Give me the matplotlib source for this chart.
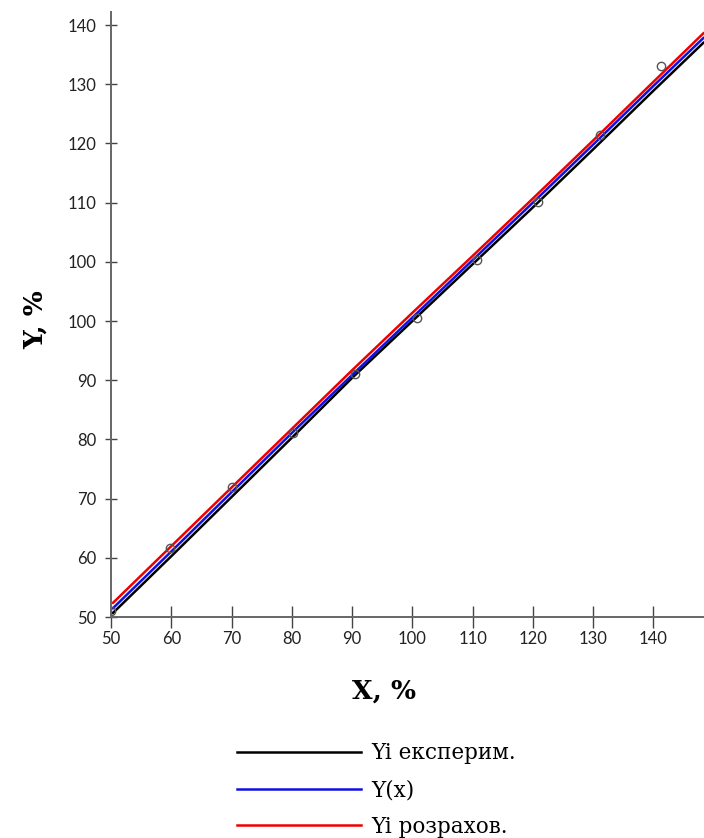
import matplotlib
matplotlib.use('Agg')
import matplotlib.pyplot as plt

# experimental points (open circles)
x_pts = [50.0, 59.8, 70.1, 80.1, 90.4, 100.7, 110.8, 120.8, 131.1, 141.2]
y_pts = [51.0, 61.7, 72.0, 81.1, 91.0, 100.5, 110.3, 120.1, 131.4, 143.1]

# the three lines
x_line = [50.3, 60, 70, 80, 90, 100, 110, 120, 130, 140, 148.3]
y_exp = [50.7, 60.3, 70.3, 80.3, 90.4, 100.0, 109.6, 119.2, 129.0, 138.9, 147.0]
y_fit = [51.5, 61.1, 71.1, 81.1, 90.9, 100.6, 110.3, 120.0, 129.8, 139.7, 147.8]
y_calc = [52.4, 62.0, 71.9, 81.8, 91.7, 101.4, 111.0, 120.7, 130.5, 140.4, 148.6]

labels = ['Yi експерим.', 'Y(x)', 'Yi розрахов.']

xticks = [50, 60, 70, 80, 90, 100, 110, 120, 130, 140]
yticks = [50, 60, 70, 80, 90, 100, 110, 120, 130, 140, 150]
ytick_labels = ['50', '60', '70', '80', '90', '100', '100', '110', '120', '130', '140']

fig = plt.figure(figsize=(7.04, 8.38), dpi=100)
ax = fig.add_axes([0.158, 0.2637, 0.842, 0.722])

l1, = ax.plot(x_line, y_exp, color='black', lw=1.8)
l2, = ax.plot(x_line, y_fit, color='#1010e0', lw=1.8)
l3, = ax.plot(x_line, y_calc, color='#ee0000', lw=1.8)
ax.plot(x_pts, y_pts, 'o', mfc='none', mec='#555555', ms=6, mew=1.0)

ax.set_xlim(50, 148.4)
ax.set_ylim(50, 152.2)
ax.set_xticks(xticks)
ax.set_yticks(yticks)
ax.set_yticklabels(ytick_labels)

for s in ['top', 'right']:
    ax.spines[s].set_visible(False)
for s in ['left', 'bottom']:
    ax.spines[s].set_color('#666666')
    ax.spines[s].set_linewidth(1.4)

ax.tick_params(axis='x', direction='inout', length=16, width=1.0, color='#444444',
               labelsize=12, pad=2)
ax.tick_params(axis='y', direction='inout', length=9, width=1.0, color='#444444',
               labelsize=12, pad=6)
for t in ax.get_xticklabels() + ax.get_yticklabels():
    t.set_family('Lato')
    t.set_color('#222222')

fig.text(0.545, 0.175, 'X, %', ha='center', va='center', fontsize=19,
         fontweight='bold', family='DejaVu Serif')
fig.text(0.05, 0.618, 'Y, %', ha='center', va='center', fontsize=19,
         fontweight='bold', family='DejaVu Serif', rotation=90)

fig.legend([l1, l2, l3], labels, loc='upper left', bbox_to_anchor=(0.336, 0.114),
           frameon=False, borderpad=0, borderaxespad=0, handlelength=5.8,
           handletextpad=0.45, labelspacing=0.68,
           prop={'family': 'DejaVu Serif', 'size': 15.5})

fig.savefig('out.png', dpi=100)
